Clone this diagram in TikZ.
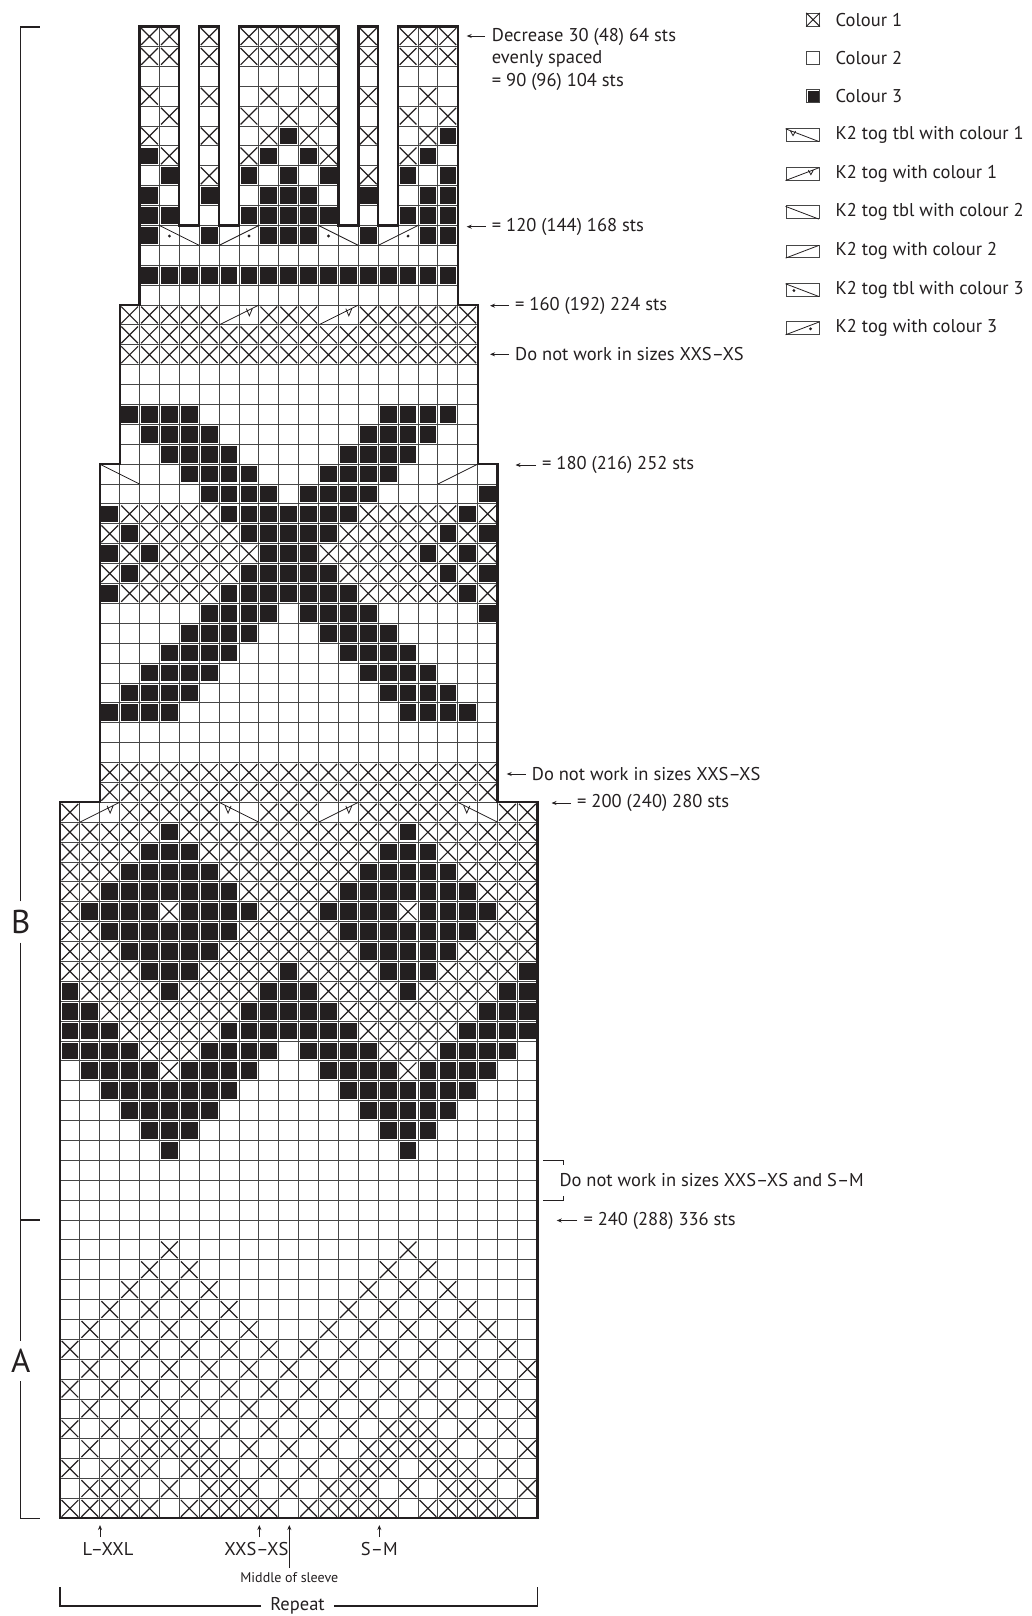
\documentclass[tikz,border=0pt]{standalone}
\usepackage{fontspec}
\setmainfont{PT Sans}
\usetikzlibrary{arrows.meta,positioning}
\definecolor{inkblack}{RGB}{35,31,32}
\definecolor{gridgrey}{RGB}{70,70,70}

% one chart row: row, first column, cells (x colour 1, o colour 2, b colour 3, . no stitch)
\newcommand{\knitrow}[3]{\def\knr{#1}\def\knc{#2}\knitparse#3\relax}
\def\knitparse#1{%
  \ifx#1\relax\else
    \knitcell{#1}%
    \pgfmathtruncatemacro{\knc}{\knc+1}%
    \expandafter\knitparse
  \fi}
\newcommand{\knitcell}[1]{%
  \if#1.\else\draw[gridln] (\knc,\knr-1) rectangle ++(1,1);\fi
  \if#1x\draw[xln] (\knc+.08,\knr-.92) -- (\knc+.92,\knr-.08) (\knc+.08,\knr-.08) -- (\knc+.92,\knr-.92);\fi
  \if#1b\fill[inkblack] (\knc+.08,\knr-.92) rectangle (\knc+.92,\knr-.08);\fi}

\begin{document}
\begin{tikzpicture}[x=1pt, y=-1pt,
    gridln/.style={draw=gridgrey, line width=0.9pt},
    xln/.style={draw=inkblack, line width=1.2pt},
    decln/.style={draw=inkblack, line width=0.8pt},
    outln/.style={draw=inkblack, line width=2.3pt, line join=miter},
    brk/.style={draw=inkblack, line width=1.1pt},
    note/.style={anchor=west, inner sep=0pt, text=inkblack, align=left,
                 font=\fontsize{18.5}{22.5}\selectfont},
    lbl/.style={inner sep=0pt, text=inkblack, font=\fontsize{18.5}{20}\selectfont},
    sect/.style={inner xsep=0pt, inner ysep=8.5pt, text=inkblack, font=\fontsize{33}{33}\selectfont},
    arr/.style={draw=inkblack, line width=0.8pt, -{Stealth[length=5pt, width=4pt]}},
    lgbox/.style={draw=gridgrey, line width=0.9pt, minimum height=12.7pt, inner sep=0pt},
    pics/ktbl/.style={code={\draw[decln] (0,1) -- (2,0);}},
    pics/ktog/.style={code={\draw[decln] (0,0) -- (2,1);}},
    pics/ktblv/.style={code={\draw[decln] (0,1) -- (2,0) (.30,.82) -- (.45,.46) -- (.60,.82);}},
    pics/ktogv/.style={code={\draw[decln] (0,0) -- (2,1) (1.37,.82) -- (1.52,.46) -- (1.67,.82);}},
    pics/ktbld/.style={code={\draw[decln] (0,1) -- (2,0); \fill[inkblack] (.5,.47) circle[radius=1.6pt];}},
    pics/ktogd/.style={code={\draw[decln] (0,0) -- (2,1); \fill[inkblack] (1.5,.47) circle[radius=1.6pt];}},
  ]
\useasboundingbox (0,0) rectangle (1032,1616);

% chart, one unit = one stitch
\begin{scope}[shift={(60,1518.33)}, x=19.89pt, y=19.89pt]
  % A
  \knitrow{1}{0}{xxxxxoxxxxxoxxxxxoxxxxxo}
  \knitrow{2}{0}{oxxxoxoxxxoxoxxxoxoxxxox}
  \knitrow{3}{0}{xoxxxoxxxoxoxoxxxoxxxoxo}
  \knitrow{4}{0}{oxoxxxxxoxoxoxoxxxxxoxox}
  \knitrow{5}{0}{xoxoxxxoxoxoxoxoxxxoxoxo}
  \knitrow{6}{0}{oxoxoxoxoxoxoxoxoxoxoxox}
  \knitrow{7}{0}{xoxoxoxoxoxoxoxoxoxoxoxo}
  \knitrow{8}{0}{oxoxoxoxoxoxoxoxoxoxoxox}
  \knitrow{9}{0}{xoxoxoxoxoxoxoxoxoxoxoxo}
  \knitrow{10}{0}{oxoxoxoxoxoooxoxoxoxoxoo}
  \knitrow{11}{0}{ooxoxoxoxoooooxoxoxoxooo}
  \knitrow{12}{0}{oooxoxoxoooooooxoxoxoooo}
  \knitrow{13}{0}{ooooxoxoooooooooxoxooooo}
  \knitrow{14}{0}{oooooxoooooooooooxoooooo}
  \knitrow{15}{0}{oooooooooooooooooooooooo}
  % B
  \knitrow{16}{0}{oooooooooooooooooooooooo}
  \knitrow{17}{0}{oooooooooooooooooooooooo}
  \knitrow{18}{0}{oooooooooooooooooooooooo}
  \knitrow{19}{0}{oooooboooooooooooboooooo}
  \knitrow{20}{0}{oooobbbooooooooobbbooooo}
  \knitrow{21}{0}{ooobbbbbooooooobbbbboooo}
  \knitrow{22}{0}{oobbbbbbbooooobbbbbbbooo}
  \knitrow{23}{0}{obbbbxbbbbooobbbbxbbbboo}
  \knitrow{24}{0}{bbbbxxxbbbbobbbbxxxbbbbo}
  \knitrow{25}{0}{bbbxxxxxbbbbbbbxxxxxbbbb}
  \knitrow{26}{0}{bbxxxxxxxbbbbbxxxxxxxbbb}
  \knitrow{27}{0}{bxxxxbxxxxbbbxxxxbxxxxbb}
  \knitrow{28}{0}{xxxxbbbxxxxbxxxxbbbxxxxb}
  \knitrow{29}{0}{xxxbbbbbxxxxxxxbbbbbxxxx}
  \knitrow{30}{0}{xxbbbbbbbxxxxxbbbbbbbxxx}
  \knitrow{31}{0}{xbbbbxbbbbxxxbbbbxbbbbxx}
  \knitrow{32}{0}{xxbbbbbbbxxxxxbbbbbbbxxx}
  \knitrow{33}{0}{xxxbbbbbxxxxxxxbbbbbxxxx}
  \knitrow{34}{0}{xxxxbbbxxxxxxxxxbbbxxxxx}
  \knitrow{35}{0}{xxxxxbxxxxxxxxxxxbxxxxxx}
  \knitrow{36}{0}{xooxxxxxooxxxooxxxxxooxx}
  \knitrow{37}{2}{xxxxxxxxxxxxxxxxxxxx}
  \knitrow{38}{2}{xxxxxxxxxxxxxxxxxxxx}
  \knitrow{39}{2}{oooooooooooooooooooo}
  \knitrow{40}{2}{oooooooooooooooooooo}
  \knitrow{41}{2}{bbbbooooooooooobbbbo}
  \knitrow{42}{2}{obbbbooooooooobbbboo}
  \knitrow{43}{2}{oobbbbooooooobbbbooo}
  \knitrow{44}{2}{ooobbbbooooobbbboooo}
  \knitrow{45}{2}{oooobbbbooobbbbooooo}
  \knitrow{46}{2}{ooooobbbbobbbbooooob}
  \knitrow{47}{2}{bxxxxxbbbbbbbxxxxxbx}
  \knitrow{48}{2}{xbxxxxxbbbbbxxxxxbxb}
  \knitrow{49}{2}{bxbxxxxxbbbxxxxxbxbx}
  \knitrow{50}{2}{xbxxxxxbbbbbxxxxxbxb}
  \knitrow{51}{2}{bxxxxxbbbbbbbxxxxxbx}
  \knitrow{52}{2}{ooooobbbbobbbbooooob}
  \knitrow{53}{2}{oooobbbbooobbbbooooo}
  \knitrow{54}{3}{oobbbbooooobbbbooo}
  \knitrow{55}{3}{obbbbooooooobbbboo}
  \knitrow{56}{3}{bbbbooooooooobbbbo}
  \knitrow{57}{3}{oooooooooooooooooo}
  \knitrow{58}{3}{oooooooooooooooooo}
  \knitrow{59}{3}{xxxxxxxxxxxxxxxxxx}
  \knitrow{60}{3}{xxxxxxxxxxxxxxxxxx}
  \knitrow{61}{3}{xxxxxooxxxooxxxxxx}
  \knitrow{62}{4}{oooooooooooooooo}
  \knitrow{63}{4}{bbbbbbbbbbbbbbbb}
  \knitrow{64}{4}{oooooooooooooooo}
  \knitrow{65}{4}{booboobbbooboobb}
  \knitrow{66}{4}{bb.o.bbbbb.o.bbb}
  \knitrow{67}{4}{bo.b.obbbo.b.obb}
  \knitrow{68}{4}{ob.x.bobob.x.bob}
  \knitrow{69}{4}{bx.o.xbobx.o.xbo}
  \knitrow{70}{4}{xo.x.oxbxo.x.oxb}
  \knitrow{71}{4}{ox.o.xoxox.o.xox}
  \knitrow{72}{4}{xo.x.oxoxo.x.oxo}
  \knitrow{73}{4}{oo.o.ooooo.o.ooo}
  \knitrow{74}{4}{xx.x.xxxxx.x.xxx}
  \knitrow{75}{4}{xx.x.xxxxx.x.xxx}
  % decreases
  \pic at (1,35) {ktogv};  \pic at (8,35) {ktblv};
  \pic at (13,35) {ktogv}; \pic at (20,35) {ktblv};
  \pic at (2,52) {ktbl};   \pic at (19,52) {ktog};
  \pic at (8,60) {ktogv};  \pic at (13,60) {ktogv};
  \pic at (5,64) {ktbld};  \pic at (8,64) {ktogd};
  \pic at (13,64) {ktbld}; \pic at (16,64) {ktogd};
  \draw[outln] (0,0) -- (24,0) -- (24,36) -- (22,36) -- (22,53) -- (21,53) -- (21,61)
    -- (20,61) -- (20,75) -- (17,75) -- (17,65) -- (16,65) -- (16,75) -- (15,75)
    -- (15,65) -- (14,65) -- (14,75) -- (9,75) -- (9,65) -- (8,65) -- (8,75) -- (7,75)
    -- (7,65) -- (6,65) -- (6,75) -- (4,75) -- (4,61) -- (3,61) -- (3,53) -- (2,53)
    -- (2,36) -- (0,36) -- cycle;
\end{scope}

% sections
\node[sect] (secB) at (20.7,922) {B};
\node[sect] (secA) at (20.7,1361) {A};
\draw[brk] (secB.north) -- (20.7,27) -- (40,27);
\draw[brk] (secB.south) -- (secA.north);
\draw[brk] (20.7,1220) -- (40,1220);
\draw[brk] (secA.south) -- (20.7,1518.3) -- (40,1518.3);

% notes on the right
\node[note] (tdec) at (491.7,59.3) {Decrease 30 (48) 64 sts\\evenly spaced\\= 90 (96) 104 sts};
\coordinate (adec0) at (485,36);
\coordinate (adec) at (466.7,36);
\draw[arr] (adec0) -- (adec);
\node[note] (t120) at (491.7,226.7) {= 120 (144) 168 sts};
\coordinate (a120) at (466.7,226.7);
\node[note] (t160) at (515,305.7) {= 160 (192) 224 sts};
\coordinate (a160) at (490,305.7);
\node[note] (tskip1) at (515,354.3) {Do not work in sizes XXS–XS};
\coordinate (askip1) at (490,354.3);
\node[note] (t180) at (542,465) {= 180 (216) 252 sts};
\coordinate (a180) at (515.5,465);
\node[note] (tskip2) at (531.7,774) {Do not work in sizes XXS–XS};
\coordinate (askip2) at (506.7,774);
\node[note] (t200) at (577,803) {= 200 (240) 280 sts};
\coordinate (a200) at (551.5,803);
\node[note] (t240) at (583.3,1220.5) {= 240 (288) 336 sts};
\coordinate (a240) at (556.7,1220.5);
\draw[arr, shorten <=6pt] (t120.west) -- (a120);
\draw[arr, shorten <=6pt] (t160.west) -- (a160);
\draw[arr, shorten <=6pt] (tskip1.west) -- (askip1);
\draw[arr, shorten <=6pt] (t180.west) -- (a180);
\draw[arr, shorten <=6pt] (tskip2.west) -- (askip2);
\draw[arr, shorten <=6pt] (t200.west) -- (a200);
\draw[arr, shorten <=6pt] (t240.west) -- (a240);
\node[note] (tskip3) at (559.3,1180.5) {Do not work in sizes XXS–XS and S–M};
\draw[brk] (543.3,1160.7) -- (563.3,1160.7) -- (563.3,1165.2);
\draw[brk] (543.3,1200.7) -- (563.3,1200.7) -- (563.3,1196.2);

% sizes below the chart
\coordinate (sl) at (100,1525);   \coordinate (sl0) at (100,1537);
\coordinate (sx) at (259.3,1525); \coordinate (sx0) at (259.3,1537);
\coordinate (ss) at (379.3,1525); \coordinate (ss0) at (379.3,1537);
\coordinate (sm) at (289.3,1525); \coordinate (sm0) at (289.3,1568);
\draw[arr] (sl0) -- (sl);
\draw[arr] (sx0) -- (sx);
\draw[arr] (ss0) -- (ss);
\draw[arr] (sm0) -- (sm);
\node[lbl, below=5pt of sl0, xshift=8pt] (tl) {L–XXL};
\node[lbl, below=5pt of sx0, xshift=-3pt] (tx) {XXS–XS};
\node[lbl, below=5pt of ss0] (ts) {S–M};
\node[lbl, below=4pt of sm0, font=\fontsize{14}{15}\selectfont] (tm) {Middle of sleeve};
\node[lbl, inner xsep=9pt] (trep) at (297.5,1606) {Repeat};
\draw[brk] (trep.west) -- (60,1606) -- (60,1587);
\draw[brk] (trep.east) -- (537.3,1606) -- (537.3,1587);

% legend
\node[lgbox, minimum width=12.7pt] (lc1) at (813,19.7) {};
\draw[xln, line width=1pt] (lc1.south west) -- (lc1.north east) (lc1.north west) -- (lc1.south east);
\node[note, right=15.7pt of lc1] (lc1t) {Colour 1};
\node[lgbox, minimum width=12.7pt] (lc2) at (813,58) {};
\node[note, right=15.7pt of lc2] (lc2t) {Colour 2};
\node[lgbox, minimum width=12.7pt] (lc3) at (813,96.3) {};
\fill[inkblack] ([shift={(1.3pt,-1.3pt)}]lc3.north west) rectangle ([shift={(-1.3pt,1.3pt)}]lc3.south east);
\node[note, right=15.7pt of lc3] (lc3t) {Colour 3};
\node[lgbox, minimum width=33.3pt] (lk1) at (802.65,134.7) {};
\pic[x=16.65pt, y=12.7pt] at (lk1.south west) {ktblv};
\node[note, right=15.7pt of lk1] (lk1t) {K2 tog tbl with colour 1};
\node[lgbox, minimum width=33.3pt] (lk2) at (802.65,173.7) {};
\pic[x=16.65pt, y=12.7pt] at (lk2.south west) {ktogv};
\node[note, right=15.7pt of lk2] (lk2t) {K2 tog with colour 1};
\node[lgbox, minimum width=33.3pt] (lk3) at (802.65,212.3) {};
\pic[x=16.65pt, y=12.7pt] at (lk3.south west) {ktbl};
\node[note, right=15.7pt of lk3] (lk3t) {K2 tog tbl with colour 2};
\node[lgbox, minimum width=33.3pt] (lk4) at (802.65,251.3) {};
\pic[x=16.65pt, y=12.7pt] at (lk4.south west) {ktog};
\node[note, right=15.7pt of lk4] (lk4t) {K2 tog with colour 2};
\node[lgbox, minimum width=33.3pt] (lk5) at (802.65,289.7) {};
\pic[x=16.65pt, y=12.7pt] at (lk5.south west) {ktbld};
\node[note, right=15.7pt of lk5] (lk5t) {K2 tog tbl with colour 3};
\node[lgbox, minimum width=33.3pt] (lk6) at (802.65,328) {};
\pic[x=16.65pt, y=12.7pt] at (lk6.south west) {ktogd};
\node[note, right=15.7pt of lk6] (lk6t) {K2 tog with colour 3};
\end{tikzpicture}
\end{document}
